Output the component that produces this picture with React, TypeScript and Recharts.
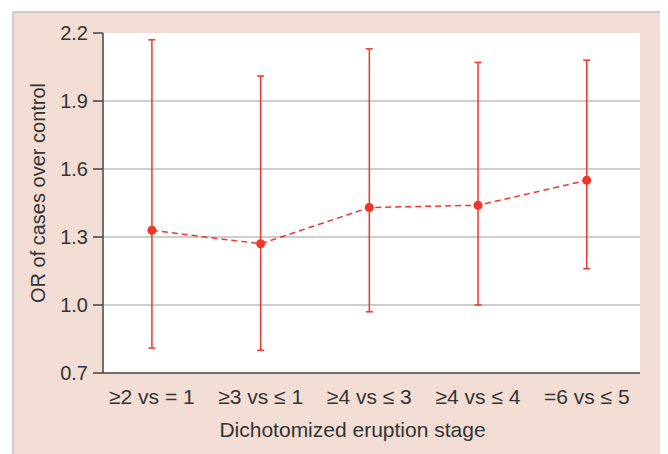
import React from 'react';
import {
  CartesianGrid,
  ComposedChart,
  ErrorBar,
  Label,
  Line,
  XAxis,
  YAxis,
} from 'recharts';

const stages = ['≥2 vs = 1', '≥3 vs ≤ 1', '≥4 vs ≤ 3', '≥4 vs ≤ 4', '=6 vs ≤ 5'];
const oddsRatio = [1.33, 1.27, 1.43, 1.44, 1.55];
const lowerCI = [0.81, 0.8, 0.97, 1.0, 1.16];
const upperCI = [2.17, 2.01, 2.13, 2.07, 2.08];
const yTicks = [0.7, 1.0, 1.3, 1.6, 1.9, 2.2];

const RED = '#f2352b';
const TEXT = '#333';
const FONT = '"Liberation Sans", Arial, sans-serif';

const data = stages.map((name, i) => ({
  idx: i,
  name,
  or: oddsRatio[i],
  err: [oddsRatio[i] - lowerCI[i], upperCI[i] - oddsRatio[i]],
}));

const YTitle = ({ viewBox }: any) => {
  const x = viewBox.x + 24;
  const y = viewBox.y + viewBox.height / 2 - 10;
  return (
    <text
      x={x}
      y={y}
      transform={`rotate(-90, ${x}, ${y})`}
      textAnchor="middle"
      dominantBaseline="central"
      fill={TEXT}
      fontSize={20}
      fontFamily={FONT}
    >
      OR of cases over control
    </text>
  );
};

const XTitle = ({ viewBox }: any) => (
  <text
    x={338.5}
    y={viewBox.y + 64}
    textAnchor="middle"
    fill={TEXT}
    fontSize={21}
    fontFamily={FONT}
  >
    Dichotomized eruption stage
  </text>
);

export default function App() {
  return (
    <div
      style={{
        marginLeft: 4,
        marginTop: 3,
        width: 650,
        height: 450,
        background: '#f1ddd4',
        borderTop: '2px solid #cbcbcb',
        borderLeft: '2px solid #cbcbcb',
        borderRight: '2px solid #cbcbcb',
        fontFamily: FONT,
      }}
    >
      <ComposedChart
        width={650}
        height={440}
        data={data}
        margin={{ top: 20, right: 24, bottom: 20, left: 0 }}
      >
        <CartesianGrid
          vertical={false}
          fill="#ffffff"
          stroke="#bcbcbc"
          strokeWidth={1.5}
          horizontalValues={[1.0, 1.3, 1.6, 1.9]}
        />
        <XAxis
          dataKey="idx"
          type="number"
          domain={[-0.45, 4.49]}
          ticks={[0, 1, 2, 3, 4]}
          tickFormatter={(v: number) => stages[v]}
          allowDataOverflow
          height={60}
          tickSize={0}
          tickMargin={16}
          axisLine={{ stroke: '#444', strokeWidth: 1.5 }}
          tick={{ fill: TEXT, fontSize: 21, fontFamily: FONT }}
          interval={0}
        >
          <Label content={<XTitle />} />
        </XAxis>
        <YAxis
          type="number"
          domain={[0.7, 2.2]}
          ticks={yTicks}
          tickFormatter={(v: number) => v.toFixed(1)}
          allowDataOverflow
          width={89}
          tickSize={10}
          tickMargin={5}
          axisLine={{ stroke: '#444', strokeWidth: 1.5 }}
          tickLine={{ stroke: '#444', strokeWidth: 1.5 }}
          tick={{ fill: TEXT, fontSize: 20, fontFamily: FONT }}
          interval={0}
        >
          <Label content={<YTitle />} />
        </YAxis>
        <Line
          dataKey="or"
          stroke={RED}
          strokeWidth={1.5}
          strokeDasharray="6 4"
          dot={{ r: 4.5, fill: RED, stroke: RED, strokeWidth: 0 }}
          activeDot={false}
          isAnimationActive={false}
        >
          <ErrorBar
            dataKey="err"
            direction="y"
            width={3.5}
            stroke={RED}
            strokeWidth={1.5}
            isAnimationActive={false}
          />
        </Line>
      </ComposedChart>
    </div>
  );
}
